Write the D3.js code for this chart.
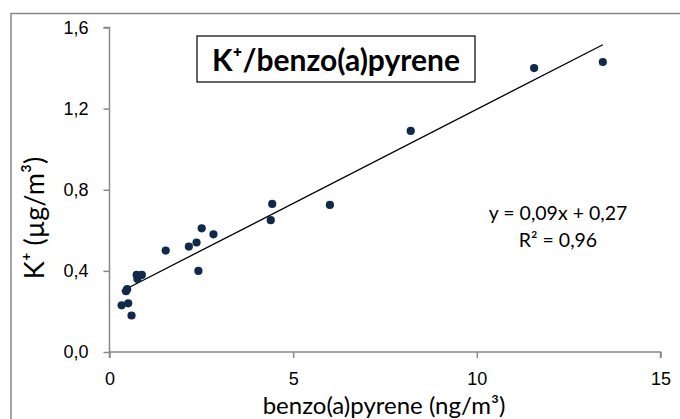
<!DOCTYPE html>
<html>
<head>
<meta charset="utf-8">
<script src="https://cdn.jsdelivr.net/npm/d3@7"></script>
<style>
  body { margin: 0; background: #fff; }
  svg { display: block; font-family: Lato, "Liberation Sans", sans-serif; }
</style>
</head>
<body>
<div id="chart"></div>
<script>
// benzo(a)pyrene (ng/m3) vs K+ (ug/m3)
const bapValues = [0.33, 0.51, 0.60, 0.45, 0.48, 0.74, 0.88, 0.76, 1.53, 2.16, 2.37, 2.42, 2.83, 2.51, 4.43, 4.39, 6.00, 8.20, 11.56, 13.43];
const kValues   = [0.23, 0.24, 0.18, 0.30, 0.31, 0.38, 0.38, 0.36, 0.50, 0.52, 0.54, 0.40, 0.58, 0.61, 0.73, 0.65, 0.725, 1.09, 1.40, 1.43];
const xTicks = [0, 5, 10, 15];
const yTicks = [0, 0.4, 0.8, 1.2, 1.6];
const equationLines = ["y = 0,09x + 0,27", "R² = 0,96"];

const width = 680, height = 419;
const margin = {top: 27.5, right: 19.5, bottom: 67, left: 109.5};
const grey = "#898989";

const svg = d3.select("#chart")
    .append("svg")
    .attr("width", width)
    .attr("height", height);

// chart area border (runs off the right and bottom edges)
svg.append("rect")
    .attr("x", 11).attr("y", 13.5)
    .attr("width", 700).attr("height", 450)
    .attr("fill", "none")
    .attr("stroke", grey)
    .attr("stroke-width", 1.5);

const x = d3.scaleLinear().domain([0, 15]).range([margin.left, width - margin.right]);
const y = d3.scaleLinear().domain([0, 1.6]).range([height - margin.bottom, margin.top]);

const comma = d => d3.format(".1f")(d).replace(".", ",");

// axes
const yAxis = svg.append("g")
    .attr("transform", `translate(${margin.left},0)`)
    .call(d3.axisLeft(y).tickValues(yTicks).tickSize(6).tickPadding(15).tickFormat(comma));

const xAxis = svg.append("g")
    .attr("transform", `translate(0,${y(0)})`)
    .call(d3.axisBottom(x).tickValues(xTicks).tickSize(6).tickPadding(14).tickFormat(d3.format("d")));

[xAxis, yAxis].forEach(a => {
    a.select(".domain").attr("stroke", grey).attr("stroke-width", 1.5);
    a.selectAll(".tick line").attr("stroke", grey).attr("stroke-width", 1.5);
    a.selectAll(".tick text").attr("fill", "#000").style("font-size", "18px");
});
yAxis.select(".domain").attr("d", `M-6,${y(1.6)}H0V${y(0)}`);
xAxis.select(".domain").attr("d", `M${x(0)},6V0H${x(15)}V6`);

// least squares trend line
const mx = d3.mean(bapValues), my = d3.mean(kValues);
const slope = d3.sum(bapValues, (v, i) => (v - mx) * (kValues[i] - my)) / d3.sum(bapValues, v => (v - mx) ** 2);
const intercept = my - slope * mx;
const [xmin, xmax] = d3.extent(bapValues);

svg.append("line")
    .attr("x1", x(xmin)).attr("y1", y(slope * xmin + intercept))
    .attr("x2", x(xmax)).attr("y2", y(slope * xmax + intercept))
    .attr("stroke", "#000")
    .attr("stroke-width", 1.3);

// points
svg.append("g")
    .selectAll("circle")
    .data(bapValues)
    .enter()
    .append("circle")
    .attr("cx", d => x(d))
    .attr("cy", (d, i) => y(kValues[i]))
    .attr("r", 4.1)
    .attr("fill", "#132949");

// equation
svg.append("g")
    .selectAll("text")
    .data(equationLines)
    .enter()
    .append("text")
    .attr("x", 558)
    .attr("y", (d, i) => 220 + i * 27)
    .attr("text-anchor", "middle")
    .style("font-size", "19.5px")
    .text(d => d);

// title box
const title = svg.append("g").attr("transform", "translate(197,36)");
title.append("rect")
    .attr("width", 278).attr("height", 46)
    .attr("fill", "#fff")
    .attr("stroke", "#000")
    .attr("stroke-width", 1.2);
title.append("text")
    .attr("x", 139).attr("y", 35)
    .attr("text-anchor", "middle")
    .style("font-size", "30px")
    .style("font-weight", "bold")
    .text("K⁺/benzo(a)pyrene");

// axis titles
svg.append("text")
    .attr("x", 384).attr("y", 414)
    .attr("text-anchor", "middle")
    .style("font-size", "24px")
    .text("benzo(a)pyrene (ng/m³)");

svg.append("text")
    .attr("transform", "translate(44,218) rotate(-90)")
    .attr("text-anchor", "middle")
    .style("font-size", "27px")
    .text("K⁺ (µg/m³)");
</script>
</body>
</html>
